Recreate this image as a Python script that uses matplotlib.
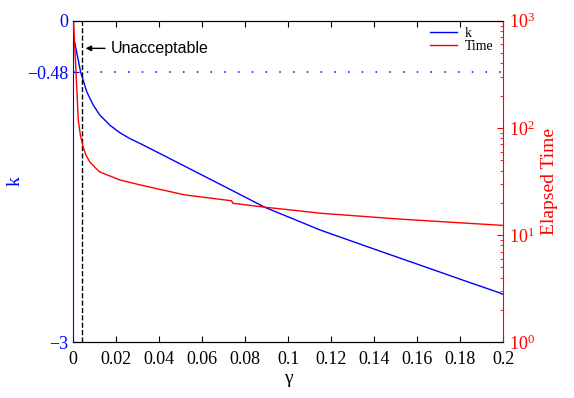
import matplotlib
matplotlib.use('Agg')
import matplotlib.pyplot as plt
from matplotlib.ticker import LogLocator, NullFormatter

plt.rcParams['font.family'] = ['Liberation Serif', 'DejaVu Serif']
plt.rcParams['mathtext.fontset'] = 'stix'

# k vs gamma (left axis)
gamma_k = [0.0009, 0.0036, 0.0064, 0.0094, 0.0125, 0.0172, 0.0218, 0.0265, 0.0311,
           0.045, 0.06, 0.075, 0.0892, 0.1055, 0.1148, 0.13, 0.14, 0.16, 0.18, 0.1984, 0.2]
k_vals = [-0.208, -0.479, -0.661, -0.786, -0.88, -0.975, -1.045, -1.10, -1.144,
          -1.286, -1.44, -1.594, -1.741, -1.875, -1.952, -2.06, -2.131, -2.271, -2.412,
          -2.54, -2.555]

# elapsed time vs gamma (right axis, log)
gamma_t = [0.0003, 0.0014, 0.0025, 0.0035, 0.0048, 0.006, 0.0079, 0.0105, 0.0125,
           0.0218, 0.0311, 0.052, 0.0737, 0.0743, 0.0892, 0.1055, 0.1148, 0.1519, 0.2]
time_vals = [1000, 347, 118, 85, 66, 56, 48, 42.3, 38.8, 32.7, 29.4,
             23.7, 20.9, 19.8, 18.2, 16.8, 16.0, 14.1, 12.3]

k_limit = -0.48
gamma_cut = 0.0043

fig, ax = plt.subplots(figsize=(5.74, 3.98), dpi=100)
fig.subplots_adjust(left=0.127, right=0.877, bottom=0.14, top=0.948)

l1, = ax.plot(gamma_k, k_vals, color='blue', lw=1.0)
ax.axhline(k_limit, color='blue', ls=(0, (1, 8)), lw=1.1)
ax.axvline(gamma_cut, color='black', ls='--', lw=1.0)
ax.annotate('Unacceptable', xy=(gamma_cut + 0.0003, -0.258), xytext=(0.0175, -0.258),
            fontsize=11.5, family='Liberation Sans', va='center',
            arrowprops=dict(arrowstyle='-|>', color='black', lw=1.0, mutation_scale=8))

ax.set_xlim(0, 0.2)
ax.set_ylim(-3, 0)
ax.set_xticks([0, 0.02, 0.04, 0.06, 0.08, 0.1, 0.12, 0.14, 0.16, 0.18, 0.2])
ax.set_xticklabels(['0', '0.02', '0.04', '0.06', '0.08', '0.1', '0.12', '0.14',
                    '0.16', '0.18', '0.2'])
ax.set_yticks([-3, k_limit, 0])
ax.set_yticklabels(['\u22123', '\u22120.48', '0'])
ax.tick_params(axis='x', direction='in', top=True, labelsize=13, length=4, pad=6)
ax.tick_params(axis='y', direction='in', labelsize=13, colors='blue', length=4)
ax.set_xlabel('\u03b3', fontsize=14, labelpad=2)
ax.set_ylabel('k', fontsize=14, color='blue')
ax.yaxis.set_label_coords(-0.115, 0.5)
ax.spines['left'].set_color('blue')
ax.spines['right'].set_visible(False)

ax2 = ax.twinx()
l2, = ax2.plot(gamma_t, time_vals, color='red', lw=1.0)
ax2.set_yscale('log')
ax2.set_ylim(1, 1000)
ax2.yaxis.set_major_locator(LogLocator(base=10, numticks=5))
ax2.yaxis.set_minor_locator(LogLocator(base=10, subs=range(2, 10), numticks=20))
ax2.yaxis.set_minor_formatter(NullFormatter())
ax2.tick_params(axis='y', which='both', direction='in', colors='red', labelsize=13)
ax2.tick_params(axis='y', which='major', length=4, pad=4)
ax2.tick_params(axis='y', which='minor', length=2)
ax2.set_ylabel('Elapsed Time', fontsize=14, color='red')
ax2.spines['right'].set_color('red')
ax2.spines['left'].set_visible(False)

ax2.legend([l1, l2], ['k', 'Time'], loc='upper right', bbox_to_anchor=(1.0, 1.012),
           frameon=False, fontsize=10, handlelength=1.9, labelspacing=0.05,
           borderaxespad=0.3, handletextpad=0.6)

fig.savefig('out.png', dpi=100)
